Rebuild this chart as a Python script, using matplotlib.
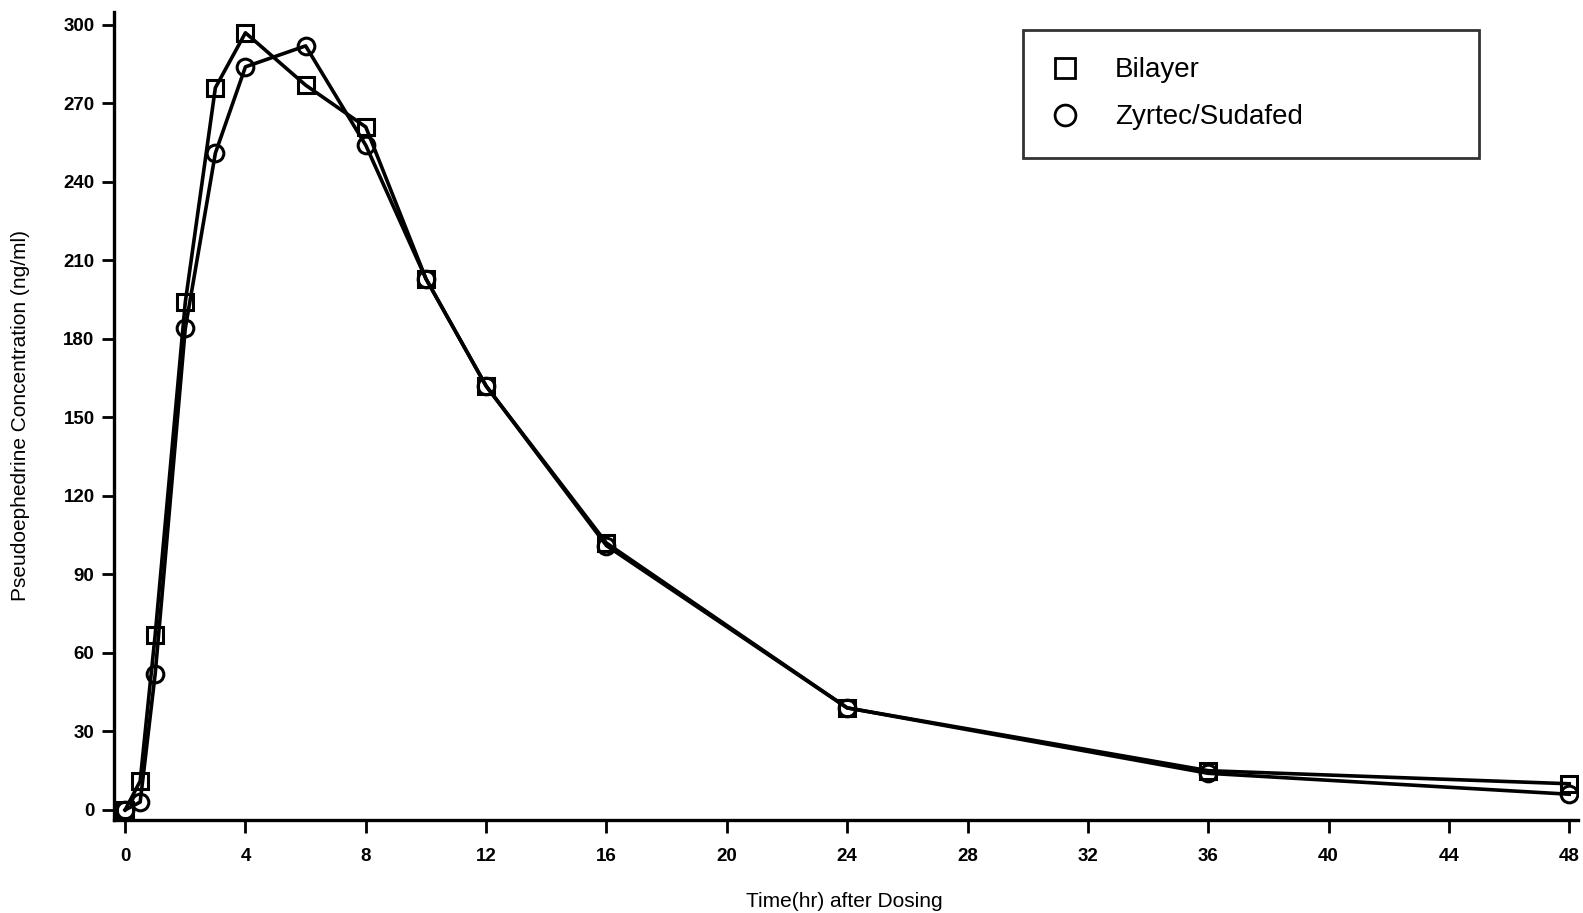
import matplotlib
matplotlib.use("Agg")
import matplotlib.pyplot as plt
from matplotlib import font_manager

# ---- data ----
time_hr = [0, 0.5, 1, 2, 3, 4, 6, 8, 10, 12, 16, 24, 36, 48]
bilayer = [0, 11, 67, 194, 276, 297, 277, 261, 203, 162, 102, 39, 15, 10]
zyrtec_sudafed = [0, 3, 52, 184, 251, 284, 292, 254, 203, 162, 101, 39, 14, 6]
x_ticks = [0, 4, 8, 12, 16, 20, 24, 28, 32, 36, 40, 44, 48]
y_ticks = [0, 30, 60, 90, 120, 150, 180, 210, 240, 270, 300]
series_labels = ["Bilayer", "Zyrtec/Sudafed"]

names = {f.name for f in font_manager.fontManager.ttflist}
narrow = "Liberation Sans Narrow" if "Liberation Sans Narrow" in names else "Liberation Sans"
plt.rcParams['font.family'] = [narrow, 'Liberation Sans', 'DejaVu Sans']

fig = plt.figure(figsize=(15.83, 9.13), dpi=100)
ax = fig.add_axes([0.072, 0.102, 0.925, 0.885])

ax.plot(time_hr, bilayer, color='black', lw=2.6, marker='s', ms=12,
        mfc='none', mec='black', mew=2.2, label=series_labels[0])
ax.plot(time_hr, zyrtec_sudafed, color='black', lw=2.6, marker='o', ms=12,
        mfc='none', mec='black', mew=2.2, label=series_labels[1])

ax.set_xlim(-0.37, 48.3)
ax.set_ylim(-3.8, 305)
ax.set_xticks(x_ticks)
ax.set_yticks(y_ticks)
ax.set_xticklabels([str(v) for v in x_ticks], fontsize=13.5, fontweight='bold')
ax.set_yticklabels([str(v) for v in y_ticks], fontsize=13.5, fontweight='bold')
ax.tick_params(axis='both', direction='out', length=9, width=2.0, pad=11)
ax.tick_params(axis='y', pad=5)

for s in ['top', 'right']:
    ax.spines[s].set_visible(False)
for s in ['left', 'bottom']:
    ax.spines[s].set_linewidth(2.4)

ax.set_xlabel("Time(hr) after Dosing", fontsize=15)
ax.xaxis.label.set_va('center')
ax.xaxis.set_label_coords(0.499, -0.101)
ax.set_ylabel("Pseudoephedrine Concentration (ng/ml)", fontsize=15)
ax.yaxis.label.set_va('center')
ax.yaxis.label.set_ha('center')
ax.yaxis.set_label_coords(-0.064, 0.5)

leg = ax.legend(loc='upper left', bbox_to_anchor=(0.621, 0.828, 0.311, 0.150),
                mode='expand', frameon=True,
                fancybox=False, edgecolor='black', fontsize=20,
                handlelength=1.0, handletextpad=1.3, borderpad=1.0,
                labelspacing=0.75, borderaxespad=0)
leg.get_frame().set_linewidth(2.0)
for h in leg.legend_handles:
    h.set_linestyle('None')
    h.set_markersize(15)
    h.set_markeredgewidth(2.0)

fig.savefig("out.png", dpi=100)
